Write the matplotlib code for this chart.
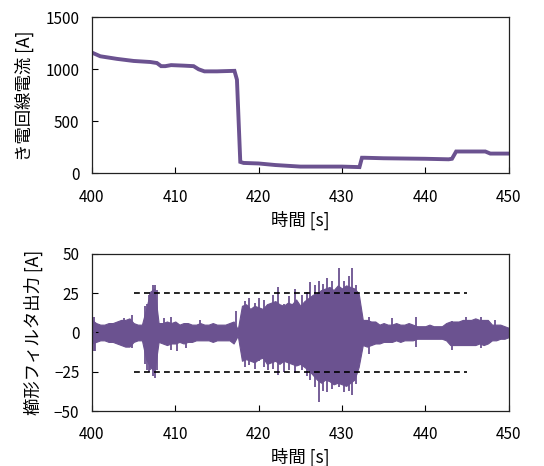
import numpy as np
import matplotlib
matplotlib.use("Agg")
import matplotlib.pyplot as plt

plt.rcParams['font.family'] = ['Noto Sans CJK JP', 'DejaVu Sans']

# ---- top: feeder current ----
cur_t = [400, 400.3, 401, 403, 405, 407, 407.8, 408.3, 408.8, 409.5, 411, 412.2, 412.8,
         413.5, 415, 417.1, 417.4, 417.8, 418.2, 420, 422, 425, 428, 430, 432.1, 432.4,
         432.7, 435, 440, 442.8, 443.2, 443.7, 446, 447.2, 447.8, 450]
cur_v = [1160, 1150, 1125, 1100, 1080, 1070, 1060, 1030, 1030, 1040, 1035, 1030, 1000,
         980, 980, 985, 900, 110, 100, 95, 80, 65, 65, 65, 60, 150,
         150, 145, 140, 135, 140, 210, 210, 210, 190, 190]

# ---- bottom: comb filter output envelope (0.5 s grid, 400..450) ----
env_hi = [8, 6, 5, 5, 6, 6, 7, 8, 8, 9, 6, 5, 5, 15, 26, 28, 6, 6, 7, 6,
          7, 5, 6, 6, 5, 5, 6, 5, 5, 6, 5, 5, 5, 6, 7, 2, 17, 18, 15, 17,
          16, 15, 18, 19, 20, 18, 17, 19, 18, 21, 17, 20, 22, 24, 25, 27, 28, 29, 27, 30,
          28, 30, 29, 28, 25, 8, 8, 7, 7, 5, 6, 5, 5, 6, 5, 5, 6, 5, 4, 4,
          4, 5, 4, 4, 4, 6, 7, 7, 7, 8, 8, 8, 9, 8, 8, 8, 5, 5, 5, 4, 3]
env_lo = [-7, -6, -5, -5, -6, -6, -7, -8, -9, -9, -6, -5, -5, -17, -22, -25, -6, -7, -8, -7,
          -7, -6, -7, -6, -6, -5, -5, -5, -5, -6, -5, -5, -5, -5, -7, -2, -18, -17, -18, -19,
          -17, -16, -20, -19, -18, -20, -18, -19, -20, -21, -20, -22, -24, -27, -30, -32, -30, -31, -33, -32,
          -33, -34, -32, -30, -22, -8, -9, -8, -7, -7, -6, -6, -6, -5, -6, -5, -5, -5, -4, -4,
          -4, -4, -4, -4, -4, -5, -8, -8, -8, -8, -8, -8, -8, -7, -8, -7, -5, -5, -4, -4, -3]
spike_t  = [400.2, 400.4, 403.8, 404.8, 406.4, 406.6, 406.8, 407.0, 407.3, 407.6, 407.8, 408.6,
            409.5, 410.2, 411.3, 413.0,
            417.3, 418.4, 418.9, 419.6, 420.0, 420.6, 421.1, 421.7, 422.3, 423.0, 423.6, 424.4,
            425.2, 425.8, 426.2, 426.8, 427.2, 427.7, 428.2, 428.8, 429.6, 430.2, 430.8, 431.2,
            431.7, 433.3, 436.0, 438.9, 443.2, 444.9, 446.7, 448.4]
spike_hi = [10, 6, 9, 11, 17, 18, 24, 26, 30, 30, 27, 9,
            10, 6, 6, 8,
            14, 20, 22, 19, 22, 21, 15, 24, 29, 18, 23, 28,
            24, 26, 32, 30, 33, 31, 35, 33, 41, 33, 36, 41,
            30, 10, 9, 10, 7, 10, 10, 8]
spike_lo = [-12, -12, -8, -10, -20, -24, -25, -24, -28, -29, -24, -6,
            -11, -12, -10, -5,
            -4, -22, -21, -23, -18, -22, -24, -23, -27, -25, -24, -26,
            -24, -28, -30, -35, -44, -37, -38, -36, -35, -38, -37, -40,
            -33, -14, -6, -9, -11, -8, -10, -5]
thr_t = [405, 445]
thr_v = [25, -25]

purple = '#6b5290'
fig = plt.figure(figsize=(5.44, 4.66), dpi=100)
ax1 = fig.add_axes([0.169, 0.628, 0.766, 0.335])
ax2 = fig.add_axes([0.169, 0.118, 0.766, 0.337])

ax1.plot(cur_t, cur_v, color=purple, lw=2.8, solid_joinstyle='miter')
ax1.set_xlim(400, 450)
ax1.set_ylim(0, 1500)
ax1.set_xticks([400, 410, 420, 430, 440, 450])
ax1.set_yticks([0, 500, 1000, 1500])
ax1.set_ylabel('き電回線電流 [A]', fontsize=12.5, labelpad=8)
ax1.set_xlabel('時間 [s]', fontsize=12.5, labelpad=4)

tgrid = np.linspace(400, 450, len(env_hi))
ax2.fill_between(tgrid, env_lo, env_hi, color=purple, lw=0.8, edgecolor=purple)
ax2.vlines(spike_t, spike_lo, spike_hi, color=purple, lw=1.3)
for v in thr_v:
    ax2.plot(thr_t, [v, v], color='black', lw=1.2, ls=(0, (3.5, 2.5)))
ax2.set_xlim(400, 450)
ax2.set_ylim(-50, 50)
ax2.set_xticks([400, 410, 420, 430, 440, 450])
ax2.set_yticks([-50, -25, 0, 25, 50])
ax2.set_yticklabels(['−50', '−25', '0', '25', '50'])
ax2.set_ylabel('櫛形フィルタ出力 [A]', fontsize=12.5, labelpad=8)
ax2.set_xlabel('時間 [s]', fontsize=12.5, labelpad=3)

for ax in (ax1, ax2):
    ax.tick_params(direction='in', labelsize=11, length=4, width=0.8)
    ax.tick_params(axis='y', pad=9)
    ax.tick_params(axis='x', pad=11)
    for s in ax.spines.values():
        s.set_linewidth(0.9)
        s.set_color('#222222')

fig.savefig('out.png', dpi=100)
